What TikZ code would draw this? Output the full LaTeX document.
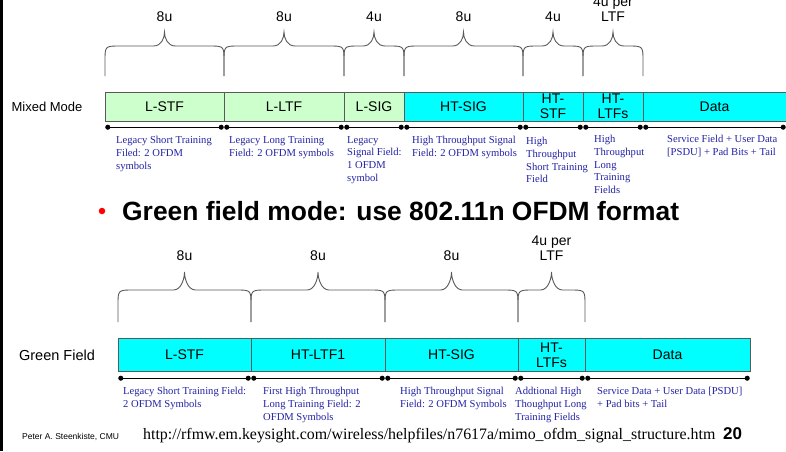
\documentclass[tikz,border=0pt]{standalone}
\usepackage{fontspec}
\setmainfont{Liberation Serif}
\setsansfont{Liberation Sans}
\usetikzlibrary{arrows.meta}
\definecolor{lgreen}{RGB}{204,255,204}
\definecolor{hcyan}{RGB}{0,255,255}
\definecolor{dblue}{RGB}{35,35,165}
\definecolor{brgray}{RGB}{90,90,90}
\newcommand{\brc}[5]{% x1, x2, tip, mid, bottom
  \pgfmathsetmacro\xc{(#1+#2)/2}
  \draw[br] (#1,#5) -- (#1,#4+15) .. controls (#1,#4) .. (#1+15,#4) -- (\xc-11,#4)
    .. controls (\xc-3,#4) and (\xc,#3+6) .. (\xc,#3)
    .. controls (\xc,#3+6) and (\xc+3,#4) .. (\xc+11,#4) -- (#2-15,#4)
    .. controls (#2,#4) .. (#2,#4+15) -- (#2,#5);}

\begin{document}
\begin{tikzpicture}[x=1pt,y=-1pt,
  seg/.style={draw=black!65,inner sep=0pt,align=center,font=\sffamily\fontsize{14}{15}\selectfont},
  ms/.style={seg,minimum height=29pt},
  gs/.style={seg,minimum height=33pt},
  desc/.style={anchor=north west,inner sep=0pt,align=left,text=dblue,font=\fontsize{10.6}{12.8}\selectfont},
  lab/.style={anchor=south,inner sep=0pt,align=center,font=\sffamily\fontsize{14}{15}\selectfont},
  br/.style={draw=brgray,line width=0.9pt},
  dl/.style={{Circle[length=5pt]}-{Circle[length=5pt]},line width=0.8pt}]
  \useasboundingbox[fill=white] (0,0) rectangle (786,451);
  \draw[line width=3pt] (1.5,0) -- (1.5,451);

  \node[font=\sffamily\fontsize{13}{15}\selectfont] (mm) at (47,106.5) {Mixed Mode};
  \node[ms,fill=lgreen,minimum width=119pt] (m1) at (164.5,106.5) {L-STF};
  \node[ms,fill=lgreen,minimum width=120pt] (m2) at (284,106.5)   {L-LTF};
  \node[ms,fill=lgreen,minimum width=60pt]  (m3) at (374,106.5)   {L-SIG};
  \node[ms,fill=hcyan,minimum width=119pt]  (m4) at (463.5,106.5) {HT-SIG};
  \node[ms,fill=hcyan,minimum width=60pt]   (m5) at (553,106.5)   {HT-\\STF};
  \node[ms,fill=hcyan,minimum width=60pt]   (m6) at (613,106.5)   {HT-\\LTFs};
  \node[ms,fill=hcyan,minimum width=143pt]  (m7) at (714.5,106.5) {Data};
  \brc{105}{224}{32}{46}{76}  \brc{224}{344}{32}{46}{76}  \brc{344}{404}{32}{46}{76}
  \brc{404}{523}{32}{46}{76}  \brc{523}{583}{32}{46}{76}  \brc{583}{643}{32}{46}{76}
  \node[lab] (lm1) at (164.5,22) {8u};
  \node[lab] (lm2) at (284,22)   {8u};
  \node[lab] (lm3) at (374,22)   {4u};
  \node[lab] (lm4) at (463.5,22) {8u};
  \node[lab] (lm5) at (553,22)   {4u};
  \node[lab] (lm6) at (613,22)   {4u per\\LTF};
  \draw[dl] ([shift={(.5,6)}]m1.south west) -- ([shift={(-.5,6)}]m1.south east);
  \draw[dl] ([shift={(.5,6)}]m2.south west) -- ([shift={(-.5,6)}]m2.south east);
  \draw[dl] ([shift={(.5,6)}]m3.south west) -- ([shift={(-.5,6)}]m3.south east);
  \draw[dl] ([shift={(.5,6)}]m4.south west) -- ([shift={(-.5,6)}]m4.south east);
  \draw[dl] ([shift={(.5,6)}]m5.south west) -- ([shift={(-.5,6)}]m5.south east);
  \draw[dl] ([shift={(.5,6)}]m6.south west) -- ([shift={(-.5,6)}]m6.south east);
  \draw[dl] ([shift={(.5,6)}]m7.south west) -- ([shift={(-.5,6)}]m7.south east);
  \node[desc] (dm1) at (116,136) {Legacy Short Training\\Filed: 2 OFDM\\symbols};
  \node[desc] (dm2) at (229,136) {Legacy Long Training\\Field: 2 OFDM symbols};
  \node[desc] (dm3) at (347,136) {Legacy\\Signal Field:\\1 OFDM\\symbol};
  \node[desc] (dm4) at (412,136) {High Throughput Signal\\Field: 2 OFDM symbols};
  \node[desc] (dm5) at (526,137) {High\\Throughput\\Short Training\\Field};
  \node[desc] (dm6) at (594,135) {High\\Throughput\\Long\\Training\\Fields};
  \node[desc] (dm7) at (667,135) {Service Field + User Data\\{[PSDU]} + Pad Bits + Tail};

  \node[circle,fill=red,inner sep=0pt,minimum size=6.5pt] (bl) at (102,211) {};
  \node[anchor=base west,inner sep=0pt,font=\sffamily\bfseries\fontsize{26.4}{30}\selectfont] (hd) at (122,220)
    {Green field mode: use 802.11n OFDM format};

  \node[font=\sffamily\fontsize{14.5}{16}\selectfont] (gf) at (57,355) {Green Field};
  \node[gs,fill=hcyan,minimum width=133pt] (g1) at (184.5,355) {L-STF};
  \node[gs,fill=hcyan,minimum width=134pt] (g2) at (318,355)   {HT-LTF1};
  \node[gs,fill=hcyan,minimum width=133pt] (g3) at (451.5,355) {HT-SIG};
  \node[gs,fill=hcyan,minimum width=67pt]  (g4) at (551.5,355) {HT-\\LTFs};
  \node[gs,fill=hcyan,minimum width=165pt] (g5) at (667.5,355) {Data};
  \brc{118}{251}{272}{290}{322}  \brc{251}{385}{272}{290}{322}
  \brc{385}{518}{272}{290}{322}  \brc{518}{585}{272}{290}{322}
  \node[lab] (lg1) at (184.5,261) {8u};
  \node[lab] (lg2) at (318,261)   {8u};
  \node[lab] (lg3) at (451.5,261) {8u};
  \node[lab] (lg4) at (551.5,261) {4u per\\LTF};
  \draw[dl] ([shift={(.5,6.5)}]g1.south west) -- ([shift={(-.5,6.5)}]g1.south east);
  \draw[dl] ([shift={(.5,6.5)}]g2.south west) -- ([shift={(-.5,6.5)}]g2.south east);
  \draw[dl] ([shift={(.5,6.5)}]g3.south west) -- ([shift={(-.5,6.5)}]g3.south east);
  \draw[dl] ([shift={(.5,6.5)}]g4.south west) -- ([shift={(-.5,6.5)}]g4.south east);
  \draw[dl] ([shift={(.5,6.5)}]g5.south west) -- ([shift={(-.5,6.5)}]g5.south east);
  \node[desc] (dg1) at (123,387) {Legacy Short Training Field:\\2 OFDM Symbols};
  \node[desc] (dg2) at (263,387) {First High Throughput\\Long Training Field: 2\\OFDM Symbols};
  \node[desc] (dg3) at (400,387) {High Throughput Signal\\Field: 2 OFDM Symbols};
  \node[desc] (dg4) at (515,387) {Addtional High\\Thoughput Long\\Training Fields};
  \node[desc] (dg5) at (597,387) {Service Data + User Data [PSDU]\\+ Pad bits + Tail};

  \node[anchor=base west,inner sep=0pt,font=\sffamily\fontsize{8.5}{10}\selectfont] (au) at (22,439) {Peter A. Steenkiste, CMU};
  \node[anchor=base west,inner sep=0pt,font=\fontsize{15.9}{18}\selectfont] (url) at (143,439)
    {http://rfmw.em.keysight.com/wireless/helpfiles/n7617a/mimo\_ofdm\_signal\_structure.htm};
  \node[anchor=base west,inner sep=0pt,font=\sffamily\bfseries\fontsize{17}{20}\selectfont] (pg) at (723,439) {20};
\end{tikzpicture}
\end{document}
